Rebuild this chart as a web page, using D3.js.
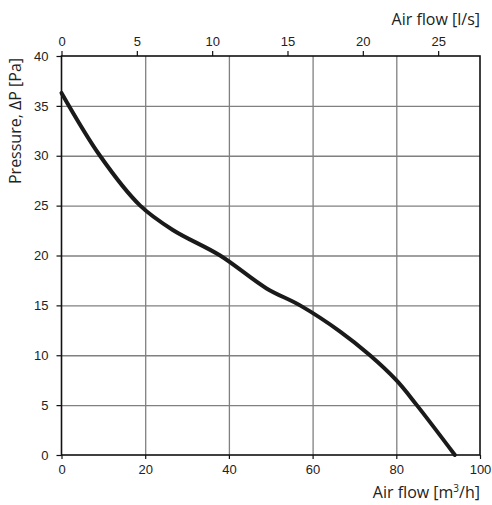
<!DOCTYPE html>
<html>
<head>
<meta charset="utf-8">
<script src="https://cdn.jsdelivr.net/npm/d3@7"></script>
<style>
    body { margin: 0; background: #fff; }
    svg { display: block; font-family: "Open Sans", sans-serif; }
    .axis text { font-size: 13px; fill: #222; }
    .axis path { display: none; }
    .axis line { stroke: #111; stroke-width: 1.2; }
    .grid line { stroke: #808080; stroke-width: 1.3; }
    .grid path { display: none; }
</style>
</head>
<body>
<div id="content"></div>
<script>
// ======= data =======
var flowM3h    = [0,    9.2, 18.8, 26.6,  37.9, 49,   57, 66.5, 73.7, 80,  84.9, 94];
var pressurePa = [36.3, 30,  25,   22.56, 20,   16.7, 15, 12.4, 10,   7.5, 5,    0];
var xTicksM3h  = [0, 20, 40, 60, 80, 100];
var xTicksLs   = [0, 5, 10, 15, 20, 25];
var yTicksPa   = [0, 5, 10, 15, 20, 25, 30, 35, 40];

// ======= formatting =======
var margin = {top: 56, right: 12, bottom: 50, left: 61.5};
var totalW = 492, totalH = 505;
var width = 480 - margin.left;
var height = 455 - margin.top;

// ======= scales =======
var xScale = d3.scaleLinear().domain([0, 100]).range([0, width]);
var xScaleLs = d3.scaleLinear().domain([0, 100 / 3.6]).range([0, width]);
var yScale = d3.scaleLinear().domain([0, 40]).range([height, 0]);

// ======= elements =======
var svgRoot = d3.select("#content")
    .append("svg")
        .attr("width", totalW)
        .attr("height", totalH);
var svgEl = svgRoot.append("g")
    .attr("transform", "translate(" + margin.left + "," + margin.top + ")");

// ======= grid =======
svgEl.append("g")
    .attr("class", "grid")
    .attr("transform", "translate(0," + height + ")")
    .call(d3.axisBottom(xScale).tickValues([20, 40, 60, 80]).tickSize(-height).tickFormat(""));
svgEl.append("g")
    .attr("class", "grid")
    .call(d3.axisLeft(yScale).tickValues([5, 10, 15, 20, 25, 30, 35]).tickSize(-width).tickFormat(""));

// ======= frame =======
svgEl.append("rect")
    .attr("width", width)
    .attr("height", height)
    .attr("fill", "none")
    .attr("stroke", "#111")
    .attr("stroke-width", 1.6);

// ======= axes =======
svgEl.append("g")
    .attr("class", "axis")
    .attr("transform", "translate(0," + height + ")")
    .call(d3.axisBottom(xScale).tickValues(xTicksM3h).tickSize(4).tickPadding(6));
svgEl.append("g")
    .attr("class", "axis")
    .call(d3.axisTop(xScaleLs).tickValues(xTicksLs).tickSize(5).tickPadding(5));
svgEl.append("g")
    .attr("class", "axis")
    .call(d3.axisLeft(yScale).tickValues(yTicksPa).tickSize(5).tickPadding(8));

// ======= titles =======
svgRoot.append("text")
    .attr("x", 480).attr("y", 25)
    .attr("text-anchor", "end")
    .style("font-size", "16px").style("fill", "#222")
    .text("Air flow [l/s]");
var bt = svgRoot.append("text")
    .attr("x", 480).attr("y", 498)
    .attr("text-anchor", "end")
    .style("font-size", "16px").style("fill", "#222");
bt.append("tspan").text("Air flow [m");
bt.append("tspan").attr("dy", -6).style("font-size", "10px").text("3");
bt.append("tspan").attr("dy", 6).text("/h]");
svgRoot.append("text")
    .attr("transform", "translate(21,121) rotate(-90)")
    .attr("text-anchor", "middle")
    .style("font-size", "16px").style("fill", "#222")
    .text("Pressure, ΔP [Pa]");

// ======= curve =======
var line = d3.line()
    .x(function(d, i) { return xScale(flowM3h[i]); })
    .y(function(d, i) { return yScale(pressurePa[i]); })
    .curve(d3.curveCatmullRom.alpha(0.5));
svgEl.append("path")
    .datum(flowM3h)
    .attr("d", line)
    .attr("fill", "none")
    .attr("stroke", "#1a1a1a")
    .attr("stroke-width", 4)
    .attr("stroke-linecap", "round");
</script>
</body>
</html>
